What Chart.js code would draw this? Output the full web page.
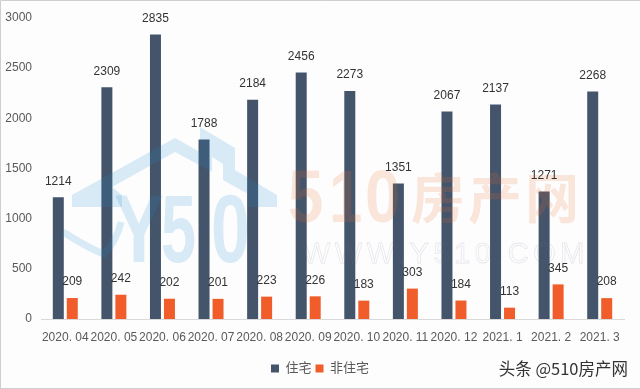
<!DOCTYPE html>
<html><head><meta charset="utf-8">
<style>html,body{margin:0;padding:0;background:#fdfdfe;overflow:hidden}canvas{display:block}</style>
<script src="https://cdn.jsdelivr.net/npm/chart.js@4"></script></head>
<body><canvas id="c" width="640" height="389" style="width:640px;height:389px"></canvas>
<script>
const categories=["2020. 04","2020. 05","2020. 06","2020. 07","2020. 08","2020. 09","2020. 10","2020. 11","2020. 12","2021. 1","2021. 2","2021. 3"];
const residential=[1214,2309,2835,1788,2184,2456,2273,1351,2067,2137,1271,2268];
const nonResidential=[209,242,202,201,223,226,183,303,184,113,345,208];
const seriesNames=["住宅","非住宅"];
const yTicks=[0,500,1000,1500,2000,2500,3000];
const FONT='"Liberation Sans","Noto Sans CJK SC",sans-serif';
function squeezed(x,t,left,base,sx){x.save();x.translate(left,base);x.scale(sx,1);x.fillText(t,0,0);x.restore();}
function watermark(x){
 x.save();
 const blue='rgba(30,140,210,.17)';
 x.fillStyle=blue;x.strokeStyle=blue;
 x.beginPath();
 [[72,195],[175,138],[200,152],[200,127],[235,148],[235,170],[277,195],[277,207],[248,207],[248,194],[223,180],[223,164],[212,157],[212,172],[175,152],[112,187],[122,195],[122,207],[72,207]].forEach((p,i)=>i?x.lineTo(p[0],p[1]):x.moveTo(p[0],p[1]));
 x.closePath();x.fill();
 x.lineWidth=7;x.lineCap='butt';x.beginPath();x.moveTo(63,232);x.quadraticCurveTo(92,250,104,254);x.quadraticCurveTo(117,240,121,222);x.stroke();
 x.font='bold 97px "Liberation Sans"';x.textAlign='left';x.textBaseline='alphabetic';
 squeezed(x,'Y',114,262,.77);squeezed(x,'5',161,262,.65);squeezed(x,'0',211,262,.72);
 const salmon='rgba(240,110,50,.17)';
 x.fillStyle=salmon;x.font='bold 75px "Liberation Sans"';
 squeezed(x,'5',288,222,.85);squeezed(x,'1',329,222,.8);squeezed(x,'0',365,222,.85);
 x.font='bold 54px "Noto Sans CJK SC"';x.letterSpacing='3px';
 x.fillText('房产网',411,219);x.letterSpacing='0px';
 x.strokeStyle='rgba(120,120,140,.16)';x.lineWidth=.8;x.font='29px "Liberation Sans"';x.letterSpacing='4.5px';
 x.strokeText('WWW.Y510.COM',303,263);x.letterSpacing='0px';
 x.restore();
}
const overlay={id:'overlay',
 afterLayout(ch){ch.legend.left+=8;ch.legend.right+=8;},
 afterDatasetsDraw(ch){
 const x=ch.ctx;
 watermark(x);
 x.save();x.font='12px '+FONT;x.fillStyle='#333';x.textAlign='center';x.textBaseline='middle';
 ch.data.datasets.forEach((d,i)=>ch.getDatasetMeta(i).data.forEach((b,j)=>x.fillText(d.data[j],b.x,b.y-16)));
 x.font='16.5px "Noto Sans CJK SC"';x.fillStyle='#333';x.textAlign='right';
 x.fillText('头条 @510房产网',628,369);
 x.strokeStyle='#cfcfcf';x.lineWidth=1;x.beginPath();x.moveTo(.5,388.5);x.lineTo(.5,.5);x.lineTo(640,.5);x.moveTo(0,388.5);x.lineTo(640,388.5);x.stroke();
 x.restore();
}};
new Chart(document.getElementById('c'),{
 type:'bar',
 data:{labels:categories,datasets:[
  {label:seriesNames[0],data:residential,backgroundColor:'#44546a',categoryPercentage:.576,barPercentage:.786},
  {label:seriesNames[1],data:nonResidential,backgroundColor:'#f15d2a',categoryPercentage:.576,barPercentage:.786}]},
 plugins:[overlay],
 options:{responsive:false,animation:false,devicePixelRatio:1,
  layout:{padding:{top:18,right:16,bottom:4,left:0}},
  plugins:{title:{display:false},tooltip:{enabled:false},
   legend:{position:'bottom',labels:{boxWidth:8,boxHeight:8,padding:4,color:'#595959',font:{size:13,family:FONT}}}},
  scales:{
   x:{grid:{display:false},border:{color:'#d9d9d9'},ticks:{color:'#595959',font:{size:12,family:FONT},maxRotation:0,autoSkip:false,padding:3},
      afterFit(s){s.height=39}},
   y:{min:0,max:3000,grid:{display:false},border:{display:false},
      afterBuildTicks(s){s.ticks=yTicks.map(v=>({value:v}))},
      ticks:{color:'#595959',font:{size:12,family:FONT},padding:1,callback:v=>String(v)},afterFit(s){s.width=41}}
  }}
});
</script></body></html>
